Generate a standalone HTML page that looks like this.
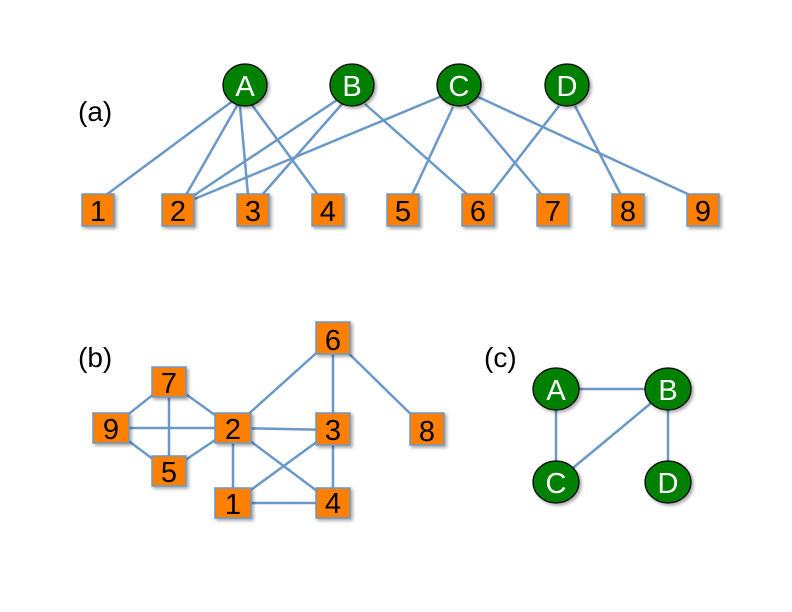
<!DOCTYPE html>
<html><head><meta charset="utf-8"><style>
html,body{margin:0;padding:0;background:#fff}
svg{display:block}
text{font-family:"Liberation Sans",sans-serif}
.e{stroke:#6a98c8;stroke-width:2.5;fill:none}
.s{fill:#ff8000;stroke:#6a98c8;stroke-width:1.5}
.c{fill:#008000;stroke:#000;stroke-width:1.2}
.n{font-size:29px;fill:#000;text-anchor:middle}
.w{font-size:29px;fill:#fff;text-anchor:middle}
.l{font-size:28px;fill:#000}
</style></head><body>
<svg width="792" height="612" viewBox="0 0 792 612">
<defs><filter id="sh" x="-20%" y="-20%" width="150%" height="150%"><feDropShadow dx="2" dy="2" stdDeviation="1.5" flood-color="#000" flood-opacity="0.35"/></filter></defs>
<g class="e">
<line x1="234" y1="100" x2="106" y2="195"/>
<line x1="238" y1="104" x2="186" y2="195"/>
<line x1="240" y1="106" x2="248" y2="195"/>
<line x1="252" y1="105" x2="318" y2="195"/>
<line x1="337" y1="100" x2="190" y2="198"/>
<line x1="342" y1="104" x2="262" y2="195"/>
<line x1="365" y1="104" x2="468" y2="195"/>
<line x1="442" y1="96" x2="192" y2="200"/>
<line x1="453" y1="107" x2="412" y2="195"/>
<line x1="467" y1="106" x2="542" y2="195"/>
<line x1="476" y1="96" x2="692" y2="196"/>
<line x1="559" y1="106" x2="490" y2="195"/>
<line x1="575" y1="106" x2="621" y2="195"/>
</g>
<g filter="url(#sh)">
<rect class="s" x="82" y="194" width="32" height="32"/>
<rect class="s" x="162" y="194" width="32" height="32"/>
<rect class="s" x="237" y="194" width="32" height="32"/>
<rect class="s" x="312" y="194" width="32" height="32"/>
<rect class="s" x="387" y="194" width="32" height="32"/>
<rect class="s" x="462" y="194" width="32" height="32"/>
<rect class="s" x="537" y="194" width="32" height="32"/>
<rect class="s" x="612" y="194" width="32" height="32"/>
<rect class="s" x="687" y="194" width="32" height="32"/>
<ellipse class="c" cx="245" cy="85" rx="22" ry="21"/>
<ellipse class="c" cx="352" cy="85" rx="22" ry="21"/>
<ellipse class="c" cx="459" cy="85" rx="22" ry="21"/>
<ellipse class="c" cx="567" cy="85" rx="22" ry="21"/>
</g>
<g class="n">
<text x="98" y="221">1</text><text x="178" y="221">2</text><text x="253" y="221">3</text>
<text x="328" y="221">4</text><text x="403" y="221">5</text><text x="478" y="221">6</text>
<text x="553" y="221">7</text><text x="628" y="221">8</text><text x="703" y="221">9</text>
</g>
<g class="w">
<text x="245" y="96">A</text><text x="352" y="96">B</text><text x="459" y="96">C</text><text x="567" y="96">D</text>
</g>
<text class="l" x="78" y="121">(a)</text>
<text class="l" x="78" y="367">(b)</text>
<text class="l" x="484" y="367">(c)</text>
<g class="e">
<line x1="169" y1="382" x2="111" y2="428"/>
<line x1="169" y1="382" x2="233" y2="428"/>
<line x1="169" y1="382" x2="169" y2="471"/>
<line x1="111" y1="428" x2="233" y2="428"/>
<line x1="111" y1="428" x2="169" y2="471"/>
<line x1="169" y1="471" x2="233" y2="428"/>
<line x1="233" y1="428" x2="333" y2="338"/>
<line x1="233" y1="428" x2="333" y2="430"/>
<line x1="233" y1="428" x2="233" y2="503"/>
<line x1="233" y1="428" x2="333" y2="503"/>
<line x1="333" y1="338" x2="333" y2="430"/>
<line x1="333" y1="338" x2="427" y2="430"/>
<line x1="333" y1="430" x2="233" y2="503"/>
<line x1="333" y1="430" x2="333" y2="503"/>
<line x1="233" y1="503" x2="333" y2="503"/>
</g>
<g filter="url(#sh)">
<rect class="s" x="316" y="322" width="34" height="32"/>
<rect class="s" x="152" y="367" width="34" height="30"/>
<rect class="s" x="93" y="413" width="36" height="30"/>
<rect class="s" x="215" y="413" width="36" height="30"/>
<rect class="s" x="316" y="413" width="34" height="32"/>
<rect class="s" x="410" y="413" width="34" height="32"/>
<rect class="s" x="152" y="456" width="34" height="30"/>
<rect class="s" x="215" y="488" width="36" height="30"/>
<rect class="s" x="316" y="488" width="34" height="30"/>
</g>
<g class="n">
<text x="333" y="350">6</text><text x="169" y="393">7</text><text x="111" y="439">9</text>
<text x="233" y="439">2</text><text x="333" y="440">3</text><text x="427" y="441">8</text>
<text x="169" y="482">5</text><text x="233" y="514">1</text><text x="333" y="513">4</text>
</g>
<g class="e">
<line x1="556" y1="389" x2="668" y2="389"/>
<line x1="556" y1="389" x2="556" y2="482"/>
<line x1="668" y1="389" x2="556" y2="482"/>
<line x1="668" y1="389" x2="668" y2="482"/>
</g>
<g filter="url(#sh)">
<ellipse class="c" cx="556" cy="389" rx="23" ry="21"/>
<ellipse class="c" cx="668" cy="389" rx="23" ry="21"/>
<ellipse class="c" cx="556" cy="482" rx="23" ry="21"/>
<ellipse class="c" cx="668" cy="482" rx="23" ry="21"/>
</g>
<g class="w">
<text x="556" y="400">A</text><text x="668" y="400">B</text><text x="556" y="493">C</text><text x="668" y="493">D</text>
</g>
</svg>
</body></html>
